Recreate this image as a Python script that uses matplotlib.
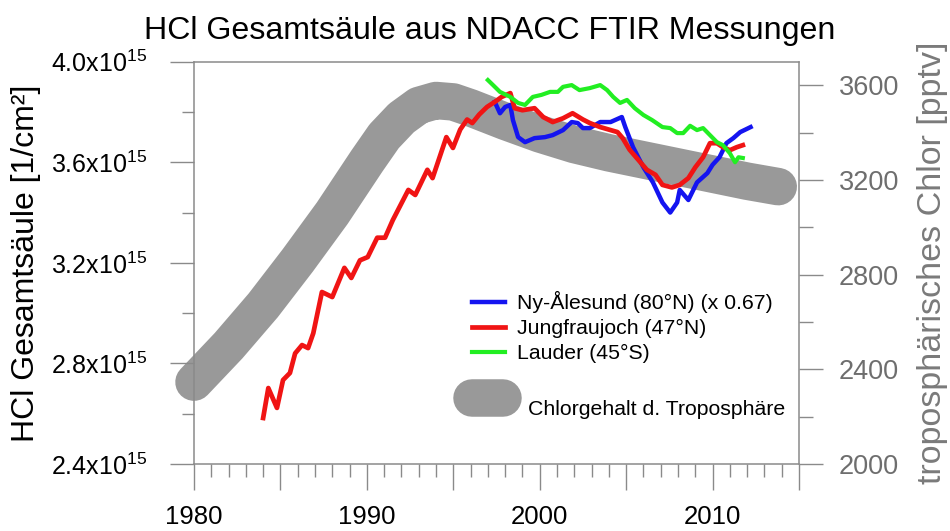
import matplotlib
matplotlib.use('Agg')
import matplotlib.pyplot as plt
from matplotlib.ticker import MultipleLocator, FuncFormatter

plt.rcParams['font.family'] = ['Liberation Sans', 'DejaVu Sans']
plt.rcParams['mathtext.fontset'] = 'custom'
plt.rcParams['mathtext.rm'] = 'Liberation Sans'
plt.rcParams['mathtext.it'] = 'Liberation Sans'

# HCl total column, units of 1e15 molec/cm2
jfj_year = [1984.0, 1984.3, 1984.8, 1985.15, 1985.55, 1985.85, 1986.25, 1986.6, 1986.9, 1987.4,
            1988.0, 1988.7, 1989.1, 1989.6, 1990.05, 1990.6, 1991.05, 1991.5, 1992.4, 1992.8,
            1993.5, 1993.8, 1994.6, 1994.98, 1995.4, 1995.8, 1996.1, 1996.5, 1996.95, 1997.4,
            1997.8, 1998.3, 1998.55, 1999.0, 1999.7, 2000.2, 2000.75, 2001.35, 2001.9, 2002.5,
            2002.9, 2003.5, 2004.1, 2004.5, 2004.8, 2005.2, 2005.7, 2006.2, 2006.7, 2007.1,
            2007.65, 2008.1, 2008.6, 2009.0, 2009.45, 2009.85, 2010.25, 2010.6, 2011.0, 2011.4,
            2011.75]
jfj_hcl = [2.583, 2.702, 2.623, 2.734, 2.762, 2.84, 2.873, 2.861, 2.92, 3.084,
           3.064, 3.18, 3.14, 3.21, 3.223, 3.30, 3.30, 3.37, 3.49, 3.47,
           3.57, 3.537, 3.70, 3.657, 3.73, 3.77, 3.756, 3.79, 3.82, 3.84,
           3.86, 3.875, 3.815, 3.807, 3.815, 3.78, 3.76, 3.775, 3.795, 3.77,
           3.756, 3.74, 3.728, 3.72, 3.696, 3.65, 3.61, 3.57, 3.55, 3.51,
           3.50, 3.51, 3.537, 3.58, 3.62, 3.676, 3.676, 3.66, 3.648, 3.66,
           3.668]

nya_year = [1997.4, 1997.7, 1998.0, 1998.3, 1998.45, 1998.75, 1999.15, 1999.7, 2000.3, 2000.75,
            2001.35, 2001.85, 2002.2, 2002.5, 2002.9, 2003.5, 2004.1, 2004.75, 2004.95, 2005.4,
            2006.0, 2006.55, 2007.1, 2007.55, 2007.95, 2008.1, 2008.6, 2009.1, 2009.7, 2010.0,
            2010.4, 2010.8, 2011.2, 2011.6, 2012.2]
nya_hcl = [3.84, 3.795, 3.82, 3.828, 3.768, 3.70, 3.68, 3.696, 3.70, 3.708,
           3.728, 3.76, 3.756, 3.736, 3.736, 3.76, 3.76, 3.78, 3.74, 3.66,
           3.58, 3.52, 3.44, 3.40, 3.44, 3.49, 3.45, 3.52, 3.557, 3.59,
           3.62, 3.676, 3.696, 3.72, 3.74]

lau_year = [1997.0, 1997.3, 1997.7, 1998.3, 1998.75, 1999.15, 1999.6, 2000.1, 2000.6, 2001.05,
            2001.35, 2001.85, 2002.3, 2002.9, 2003.5, 2003.9, 2004.25, 2004.65, 2005.05, 2005.5,
            2006.0, 2006.5, 2007.1, 2007.55, 2007.95, 2008.3, 2008.7, 2009.1, 2009.45, 2009.85,
            2010.25, 2010.6, 2011.0, 2011.3, 2011.5, 2011.75]
lau_hcl = [3.927, 3.907, 3.88, 3.86, 3.836, 3.828, 3.86, 3.868, 3.88, 3.88,
           3.90, 3.907, 3.887, 3.895, 3.907, 3.887, 3.86, 3.836, 3.848, 3.815,
           3.788, 3.768, 3.74, 3.736, 3.716, 3.716, 3.745, 3.728, 3.736, 3.708,
           3.68, 3.668, 3.636, 3.60, 3.62, 3.617]

# tropospheric chlorine [pptv]
tropo_year = [1980, 1982, 1984, 1986, 1988, 1989, 1990, 1991, 1992, 1993, 1994, 1995,
              1996, 1998, 2000, 2002, 2004, 2006, 2008, 2010, 2012, 2013.8]
tropo_cl = [2346, 2500, 2670, 2860, 3060, 3170, 3280, 3385, 3462, 3515, 3536, 3530,
            3505, 3448, 3395, 3350, 3315, 3285, 3255, 3225, 3195, 3172]

grey_ax = '#8a8a8a'

fig = plt.figure(figsize=(9.5, 5.31), dpi=100)
ax = fig.add_axes([194/950, 1-464/531, 605/950, 402.3/531])
ax2 = ax.twinx()
ax.set_zorder(ax2.get_zorder() + 1)
ax.patch.set_visible(False)

band, = ax2.plot(tropo_year, tropo_cl, color='#999999', lw=27, solid_capstyle='round',
                 solid_joinstyle='round', clip_on=False, label='\nChlorgehalt d. Troposphäre')
l1, = ax.plot(nya_year, nya_hcl, color='#1414f0', lw=3.2, label='Ny-Ålesund (80°N) (x 0.67)')
l2, = ax.plot(jfj_year, jfj_hcl, color='#f01414', lw=3.4, label='Jungfraujoch (47°N)')
l3, = ax.plot(lau_year, lau_hcl, color='#22ee22', lw=3.0, label='Lauder (45°S)')

ax.set_xlim(1980, 2015)
ax.set_ylim(2.4, 4.0)
ax2.set_ylim(2000, 3700)

ax.xaxis.set_major_locator(MultipleLocator(5))
ax.xaxis.set_minor_locator(MultipleLocator(1))
ax.xaxis.set_major_formatter(FuncFormatter(lambda v, p: '%d' % v if round(v) % 10 == 0 else ''))
ax.yaxis.set_major_locator(MultipleLocator(0.4))
ax.yaxis.set_minor_locator(MultipleLocator(0.2))
ax.yaxis.set_major_formatter(FuncFormatter(lambda v, p: '%.1fx10$^{15}$' % v))
ax2.yaxis.set_major_locator(MultipleLocator(400))
ax2.yaxis.set_minor_locator(MultipleLocator(200))

for a in (ax, ax2):
    for s in a.spines.values():
        s.set_color(grey_ax)
        s.set_linewidth(1.1)
ax.spines['right'].set_visible(False)
ax2.spines['left'].set_visible(False)
ax2.spines['top'].set_visible(False)
ax2.spines['bottom'].set_visible(False)

ax.tick_params(axis='x', which='major', direction='out', length=19, width=1, color=grey_ax,
               labelsize=18.5, pad=10.5)
ax.tick_params(axis='x', which='minor', direction='out', length=9.5, width=1, color=grey_ax)
ax.tick_params(axis='y', which='major', direction='out', length=17.5, width=1, color=grey_ax,
               labelsize=18, pad=16)
ax.tick_params(axis='y', which='minor', direction='out', length=8.5, width=1, color=grey_ax)
ax2.tick_params(axis='y', which='major', direction='out', length=17.5, width=1, color=grey_ax,
                labelsize=19.5, labelcolor='#6e6e6e', pad=11)
ax2.tick_params(axis='y', which='minor', direction='out', length=10, width=1, color=grey_ax)

ax.set_title('HCl Gesamtsäule aus NDACC FTIR Messungen', fontsize=23.1, x=0.489, pad=16)
ax.set_ylabel('HCl Gesamtsäule [1/cm²]', fontsize=23)
ax.yaxis.set_label_coords(-0.278, 0.5)
ax.yaxis.label.set_va('center')
ax2.set_ylabel('troposphärisches Chlor [pptv]', fontsize=24.5, color='#7a7a7a')
ax2.yaxis.set_label_coords(1.22, 0.5)
ax2.yaxis.label.set_va('center')

leg1 = ax.legend(handles=[l1, l2, l3], loc='center left', bbox_to_anchor=(0.4595, 0.3405),
                 frameon=False, fontsize=15.3, borderpad=0, borderaxespad=0,
                 handlelength=1.55, handletextpad=0.56, labelspacing=0.28)
ax.add_artist(leg1)
ax.legend(handles=[band], loc='center left', bbox_to_anchor=(0.4603, 0.164),
          frameon=False, fontsize=15.3, borderpad=0, borderaxespad=0,
          handlelength=1.45, handletextpad=1.15, labelspacing=0.0)

fig.savefig('out.png', dpi=100)
